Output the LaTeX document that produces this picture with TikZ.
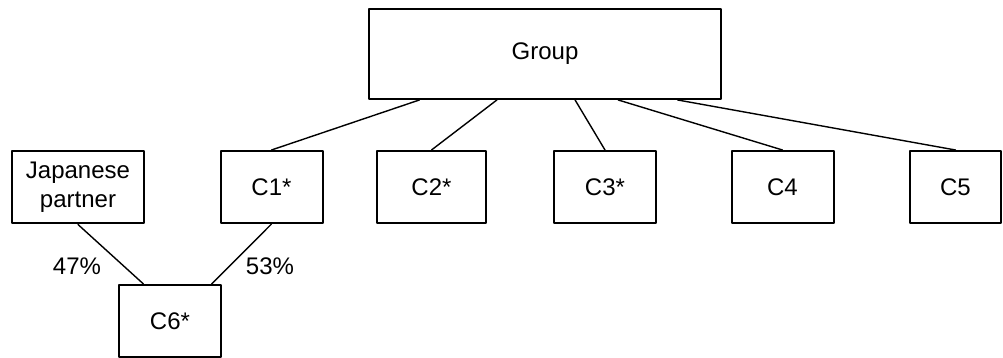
\documentclass[tikz,border=0pt]{standalone}
\usepackage{fontspec}
\setmainfont{Liberation Sans}
\usetikzlibrary{calc}
\begin{document}
\begin{tikzpicture}[x=0.5pt,y=-0.5pt,line join=round,line cap=round,font=\fontsize{12}{14.5}\selectfont,
  box/.style={draw,line width=1pt,minimum width=51pt,minimum height=36pt,inner sep=0pt,align=center},
  link/.style={line width=0.7pt}]
            \useasboundingbox (0,0) rectangle (1003,358);
            \node[box,minimum width=176pt,minimum height=45pt] (grp) at (545,54) {Group};
            \node[box,minimum width=66pt] (jp) at (78,187.5) {Japanese\\partner};
            \node[box] (c1) at (271.5,187) {C1*};
            \node[box,minimum width=54.5pt] (c2) at (431.5,187) {C2*};
            \node[box] (c3) at (605,187) {C3*};
            \node[box] (c4) at (782.5,187) {C4};
            \node[box,minimum width=45.5pt] (c5) at (955.5,187) {C5};
            \node[box] (c6) at (170,321) {C6*};
            \foreach \c/\f in {c1/0.145,c2/0.364,c3/0.585,c4/0.707,c5/0.875}
            \draw[link] ($(grp.south west)!\f!(grp.south east)$) -- (\c.north);
            \draw[link] (jp.south) -- ($(c6.north west)!0.245!(c6.north east)$);
            \draw[link] (c1.south) -- ($(c6.north west)!0.9!(c6.north east)$);
            \node (p47) at (77,266) {47\%};
            \node (p53) at (270,266) {53\%};
        \end{tikzpicture}
\end{document}
